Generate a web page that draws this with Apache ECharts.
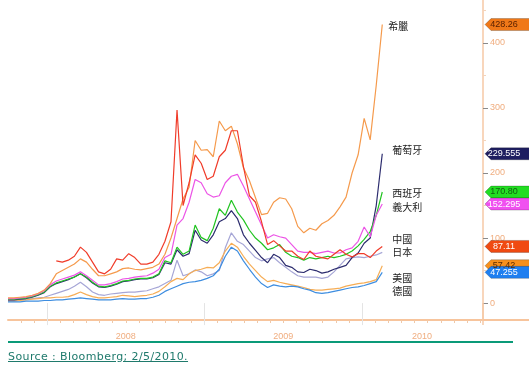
<!DOCTYPE html>
<html><head><meta charset="utf-8">
<script src="https://cdn.jsdelivr.net/npm/echarts@6/dist/echarts.min.js"></script>
<style>
html,body{margin:0;padding:0;background:#fff;}
#c{position:absolute;left:0;top:0;width:529px;height:370px;}
#axisExt{position:absolute;left:483px;top:319px;width:46px;height:2px;background:#f7c49c;}
#rule{position:absolute;left:8px;top:341px;width:505px;height:2px;background:#0a9a78;}
#src{position:absolute;left:8px;top:350px;font:11px "DejaVu Sans",sans-serif;letter-spacing:0.4px;color:#1f7a6c;text-decoration:underline;white-space:nowrap;}
</style></head><body>
<div id="c"></div><div id="axisExt"></div><div id="rule"></div><div id="src">Source : Bloomberg; 2/5/2010.</div>
<script>
// ---- data (fractional years, biweekly from Oct 2007 to early Feb 2010) ----
const startYear = 2007.752;
const stepYears = 14 / 365.25;
const pointCount = 63;
const dates = Array.from({length: pointCount}, (_, i) => startYear + i * stepYears);

const greece = [8,8,9,10,12,15,20,30,45,50,
 55,60,68,63,52,42,42,45,48,53,
 54,52,51,53,55,60,75,100,130,160,
 178,250,235,236,225,280,265,272,245,208,
 188,162,136,138,155,162,160,145,118,108,
 115,112,122,127,135,148,163,200,228,284,
 251,335,428.26];
const china = [null,null,null,null,null,null,null,null,65,63,
 66,72,86,78,63,48,45,52,68,66,
 76,70,60,60,63,75,95,125,297,150,
 185,228,215,190,195,225,235,265,265,210,
 165,155,125,90,96,88,80,80,72,67,
 80,72,70,68,75,82,75,71,76,76,
 70,80,87.11];
const italy = [7,7,8,9,11,14,19,28,34,37,
 40,43,48,42,35,28,28,30,33,37,
 38,40,41,42,46,52,70,75,120,130,
 155,190,185,168,163,165,185,195,198,180,
 160,140,120,100,105,102,100,90,80,78,
 78,76,78,80,77,77,82,85,95,117,
 102,135,152.295];
const spain = [6,6,7,8,10,13,17,26,31,34,
 37,40,45,40,32,26,25,27,30,34,
 35,37,38,38,40,45,65,62,86,75,
 80,120,101,96,115,145,135,158,140,128,
 112,100,92,82,85,90,78,72,70,66,
 70,68,70,72,70,72,75,80,88,98,
 110,135,170.80];
const portugal = [5,5,6,7,9,12,16,25,30,33,
 36,40,45,39,31,25,24,26,29,33,
 34,36,37,37,39,44,62,60,82,72,
 76,112,97,92,105,125,130,142,130,105,
 92,81,70,62,75,70,58,55,48,47,
 52,50,46,48,52,55,58,70,77,92,
 100,150,229.555];
const japan = [4,4,5,6,7,8,9,12,15,18,
 21,26,32,25,17,13,12,14,15,16,
 17,17,18,19,22,25,30,35,66,42,
 45,51,48,42,45,50,85,108,95,90,
 80,70,65,68,70,62,55,48,42,40,
 40,40,38,40,48,58,68,70,71,70,
 72,74,78];
const usa = [3,3,4,5,6,7,8,8,9,9,
 10,13,17,13,10,8,8,9,10,12,
 11,10,11,12,14,18,25,33,38,36,
 45,50,52,55,54,62,80,92,86,72,
 60,50,40,33,35,32,30,28,26,24,
 21,20,20,21,22,23,26,28,30,31,
 33,36,57.42];
const germany = [2,2,2,3,3,3,4,4,5,5,
 6,7,8,7,6,5,5,5,6,7,
 6,6,7,7,9,12,18,22,26,30,
 32,33,35,38,42,52,72,86,80,65,
 52,40,30,24,28,26,25,26,25,22,
 20,16,15,16,18,20,22,24,25,27,
 30,33,47.255];

// series in drawing order
const names     = ['日本', '美國', '德國', '葡萄牙', '西班牙', '義大利', '希臘', '中國'];
const values    = [japan, usa, germany, portugal, spain, italy, greece, china];
const tagLabels = [null, '57.42', '47.255', '229.555', '170.80', '152.295', '428.26', '87.11'];
const yTickValues = [0, 100, 200, 300, 400];
const yMinorTicks = [50, 150, 250, 350, 450];
const yearBounds = [2008, 2009, 2010];
const yearLabelPos = [2008.5, 2009.5, 2010.38];

// ---- styles ----
const lineColors = ['#a6a6d6', '#f6ad55', '#3d8de0', '#2c2c6e', '#22c422', '#ec55e6', '#f59a4c', '#f03c2a'];
const tagColors  = ['', '#f8901c', '#1f7ff0', '#1e1e60', '#22dd22', '#f050f0', '#f07818', '#f04a12'];
const tagText    = ['', '#5a2a00', '#ffffff', '#ffffff', '#106010', '#ffffff', '#5a2000', '#ffffff'];
const labelDy    = [0, 12, 19, -4, 1, 3, 2, -7];
const labelDist  = [10, 10, 10, 10, 10, 10, 6, 10];

const X_MIN = 2007.752, X_MAX = 2010.768;
const monthTicks = [];
for (let y = 2007; y <= 2010; y++) for (let m = 0; m < 12; m++) {
  const v = y + m / 12; if (v >= X_MIN && v <= X_MAX) monthTicks.push(v);
}

const series = names.map((name, k) => {
  const vals = values[k];
  const s = {
    type: 'line', name: name,
    data: dates.map((d, i) => [d, vals[i]]),
    symbol: 'none', showSymbol: false, animation: false,
    lineStyle: {width: 1.2, color: lineColors[k]},
    itemStyle: {color: lineColors[k]},
    z: 2 + k,
    endLabel: {show: true, formatter: name, distance: labelDist[k], offset: [0, labelDy[k]],
      fontSize: 10, color: '#222', fontFamily: '"Noto Sans CJK TC", sans-serif'}
  };
  if (tagLabels[k]) {
    s.markPoint = {
      silent: true, animation: false,
      symbol: 'path://M0,6L6,0L46,0L46,12L6,12Z', symbolSize: [46, 12], symbolOffset: [25, 0],
      itemStyle: {color: tagColors[k], borderColor: 'rgba(0,0,0,0.35)', borderWidth: 0.5},
      label: {show: true, position: 'inside', formatter: tagLabels[k], color: tagText[k],
        fontSize: 9, fontFamily: 'Arial, sans-serif', offset: [-4, 0]},
      data: [{coord: [X_MAX, vals[vals.length - 1]]}]
    };
  }
  return s;
});

const chart = echarts.init(document.getElementById('c'));
chart.setOption({
  animation: false,
  backgroundColor: '#fff',
  grid: {left: 8, right: 46, top: 0, bottom: 50, containLabel: false},
  xAxis: [{
    type: 'value', min: X_MIN, max: X_MAX, position: 'bottom',
    axisLine: {show: true, onZero: false, lineStyle: {color: '#f7c49c', width: 2}},
    axisTick: {show: true, customValues: monthTicks, length: 3, lineStyle: {color: '#f0c8a8'}},
    axisLabel: {show: true, customValues: yearLabelPos, formatter: v => String(Math.floor(v + 1e-6)),
      color: '#f0ae80', fontSize: 9, margin: 12},
    splitLine: {show: false}
  }, {
    type: 'value', min: X_MIN, max: X_MAX, position: 'bottom',
    axisLine: {show: false},
    axisTick: {show: true, customValues: yearBounds, length: 22, lineStyle: {color: '#e4e4e4'}},
    axisLabel: {show: false}, splitLine: {show: false}
  }, {
    type: 'value', min: X_MIN, max: X_MAX, position: 'bottom',
    axisLine: {show: false},
    axisTick: {show: true, customValues: [X_MAX], length: 22, lineStyle: {color: '#f6c9a6', width: 1.5}},
    axisLabel: {show: false}, splitLine: {show: false}
  }],
  yAxis: [{
    type: 'value', position: 'right', min: -26, max: 466,
    axisLine: {show: true, lineStyle: {color: '#f6c9a6', width: 1.5}},
    axisTick: {show: true, customValues: yTickValues, length: 5, lineStyle: {color: '#8a8a8a'}},
    axisLabel: {show: true, customValues: yTickValues, color: '#f0ae80', fontSize: 9, margin: 7},
    splitLine: {show: false}
  }, {
    type: 'value', position: 'right', min: -26, max: 466,
    axisLine: {show: false},
    axisTick: {show: true, customValues: yMinorTicks, length: 3, lineStyle: {color: '#f3d3bb'}},
    axisLabel: {show: false}, splitLine: {show: false}
  }],
  series: series
});
</script></body></html>
